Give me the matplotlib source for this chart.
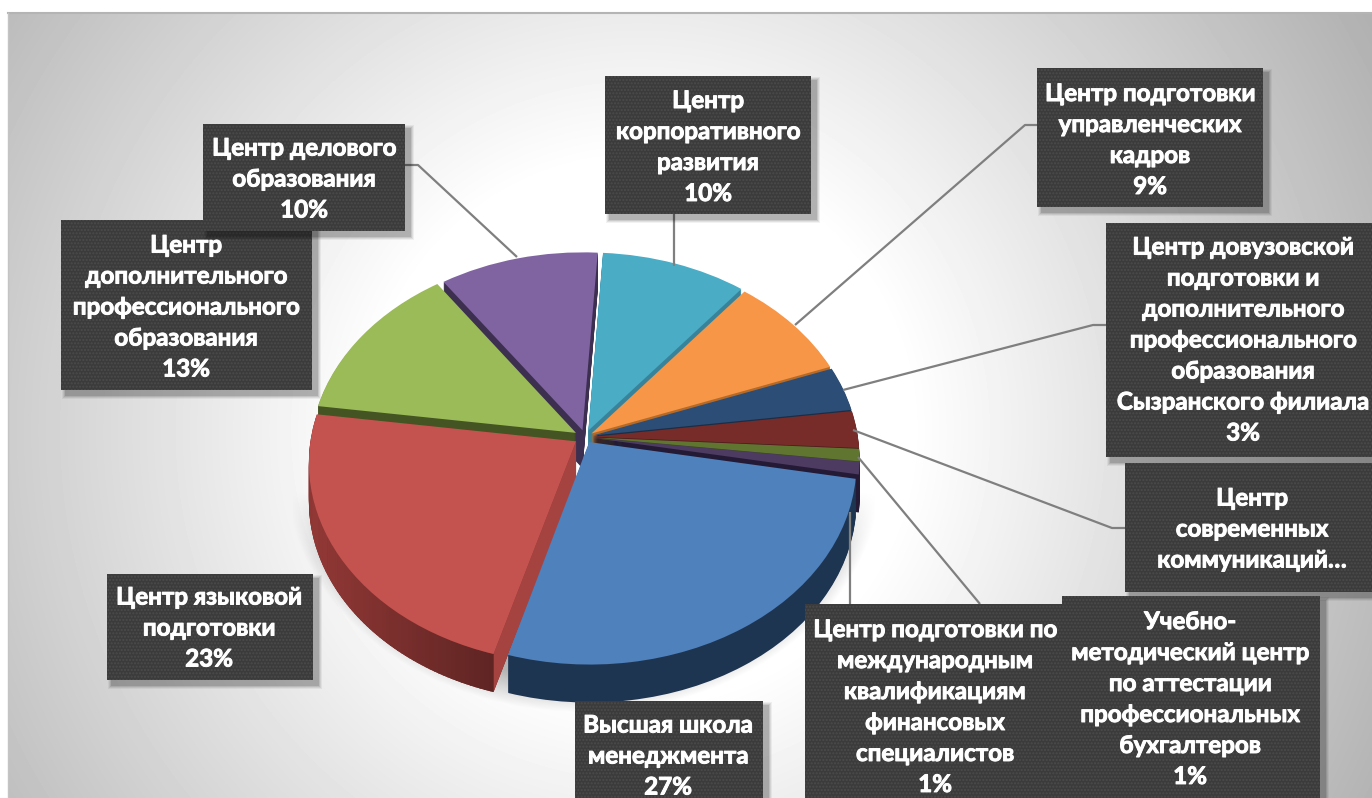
import numpy as np
import matplotlib
matplotlib.use("Agg")
import matplotlib.pyplot as plt
import matplotlib.patheffects as pe
from matplotlib.colors import to_rgb
from matplotlib.patches import Polygon, Rectangle
from matplotlib.transforms import Transform

plt.rcParams['font.family'] = ['Lato', 'Open Sans', 'DejaVu Sans']
plt.rcParams['hatch.linewidth'] = 1.0

names = [
    "Центр\nкорпоративного\nразвития",
    "Центр подготовки\nуправленческих\nкадров",
    "Центр довузовской\nподготовки и\nдополнительного\nпрофессионального\nобразования\nСызранского филиала",
    "Центр\nсовременных\nкоммуникаций…",
    "Центр подготовки по\nмеждународным\nквалификациям\nфинансовых\nспециалистов",
    "Учебно-\nметодический центр\nпо аттестации\nпрофессиональных\nбухгалтеров",
    "Высшая школа\nменеджмента",
    "Центр языковой\nподготовки",
    "Центр\nдополнительного\nпрофессионального\nобразования",
    "Центр делового\nобразования",
]
# percents as printed; values are the shares as drawn, read from the slice edges
percents = [10, 9, 3, 3, 1, 1, 27, 23, 13, 10]
values = [9.8, 8.5, 3.6, 3, 1, 1, 26.55, 22.75, 13.1, 10.7]
show_percent = [True, True, True, False, True, True, True, True, True, True]

top_colors = ['#4bacc6', '#f79646', '#2c4d75', '#772c2a', '#5f7530',
              '#4d3b62', '#4f81bd', '#c4524f', '#9bbb59', '#8064a2']
side_colors = ['#38839a', '#b56a28', '#1a2e46', '#4a1b1a', '#3a471d',
               '#241a35', '#1e3552', '#7a2f2d', '#445423', '#3c2f50']
explode = [0.035, 0.03, 0.03, 0.03, 0.03, 0.03, 0.03, 0.04, 0.04, 0.035]

# label boxes: x0, y0, x1, y1 in pixels, same order as names
boxes = [(605, 76, 811, 214), (1037, 68, 1263, 207), (1106, 223, 1372, 457),
         (1125, 463, 1372, 592), (805, 604, 1066, 800), (1062, 596, 1320, 800),
         (575, 701, 763, 800), (107, 574, 313, 680), (61, 220, 312, 390),
         (203, 124, 405, 231)]
text_xy = [(708, 147), (1150, 140), (1243, 340), (1252, 529), (935, 707),
           (1190, 699), (668, 756), (209, 628), (186, 307), (304, 179)]
leaders = [
    [(674, 214), (674, 266)],
    [(1037, 125), (1025, 125), (795, 325)],
    [(1106, 325), (1093, 325), (843, 390)],
    [(1125, 528), (1112, 528), (853, 430)],
    [(850, 604), (850, 512)],
    [(980, 604), (858, 457)],
    [(405, 165), (418, 165), (517, 257)],
]
# order in which the boxes are painted, later ones on top
box_order = [8, 9, 7, 6, 0, 1, 2, 3, 4, 5]

W, H = 1372, 798
CX, CY = 585, 437
RX, RY = 265, 198
TILT = 0.105
DEPTH = 38
START = 86.4
RED = 7


class Tilted(Transform):
    """unit pie -> pixels, with the front of the disc nearer the viewer"""
    input_dims = output_dims = 2

    def __init__(self, drop=0):
        super().__init__()
        self.drop = drop

    def transform_non_affine(self, xy):
        xy = np.asarray(xy)
        w = 1 + TILT * xy[:, 1]
        return np.column_stack((CX + RX * xy[:, 0] / w,
                                CY - RY * xy[:, 1] / w + self.drop))


def draw_pie(ax, colors, drop, z):
    wedges, _ = ax.pie(values, explode=explode, startangle=START, counterclock=False,
                       colors=colors, wedgeprops=dict(linewidth=0))
    for w in wedges:
        w.set_transform(Tilted(drop) + ax.transData)
        w.set_zorder(z)
        w.set_clip_on(False)
    return wedges


def shade_red_side(ax, wedge):
    # the big red slice shows a lit cut face and a rim that darkens to the right
    cx, cy = wedge.center
    top, bottom = Tilted(0), Tilted(DEPTH)
    a = np.radians(wedge.theta2)
    cut = np.array([[cx, cy], [cx + np.cos(a), cy + np.sin(a)]])
    pts = np.vstack((top.transform_non_affine(cut), bottom.transform_non_affine(cut[::-1])))
    ax.add_patch(Polygon(pts, fc='#a54341', ec='none', zorder=3.5))

    base = np.array(to_rgb('#7a2f2d'))
    thetas = np.arange(wedge.theta1, wedge.theta2 + 0.5, 1.0)
    for t0, t1 in zip(thetas[:-1], thetas[1:]):
        t1 = min(t1 + 0.3, wedge.theta2)
        arc = np.array([[cx + np.cos(np.radians(t)), cy + np.sin(np.radians(t))] for t in (t0, t1)])
        pts = np.vstack((top.transform_non_affine(arc), bottom.transform_non_affine(arc[::-1])))
        shade = np.interp(pts[:, 0].mean(), [310, 500], [1.2, 0.76])
        ax.add_patch(Polygon(pts, fc=np.clip(base * shade, 0, 1), ec='none', zorder=3.6))


def main():
    fig = plt.figure(figsize=(W / 100, H / 100), dpi=100, facecolor='white')
    ax = fig.add_axes([0, 0, 1, 1])

    # grey backdrop, white in the middle
    yy, xx = np.mgrid[13:H, 8:W]
    r = np.hypot(xx - 640, yy - 430)
    grey = np.clip(255 - 0.138 * (r - 270), 0, 255) / 255
    ax.imshow(grey, cmap='gray', vmin=0, vmax=1, extent=(8, W, H, 13),
              aspect='auto', zorder=0, interpolation='bilinear')
    ax.plot([8, W], [13, 13], color='#b4b4b4', lw=1.5, zorder=1)
    ax.plot([8, 8], [13, H], color='#c4c4c4', lw=1, zorder=1)

    # soft shadow under the pie
    d = np.hypot((xx - 583) / 290, (yy - 470) / 235)
    shade = np.clip((1.03 - d) / 0.14, 0, 1) * 0.30 * np.clip((yy - 490) / 70, 0, 1)
    shade[(xx < 293) | (xx > 874) | (yy > 717)] = 0
    rgba = np.zeros(shade.shape + (4,))
    rgba[..., 3] = shade
    ax.imshow(rgba, extent=(8, W, H, 13), aspect='auto', zorder=2)

    for drop in range(DEPTH, 0, -1):
        draw_pie(ax, side_colors, drop, 3 + (DEPTH - drop) * 0.001)
    wedges = draw_pie(ax, top_colors, 0, 4)
    shade_red_side(ax, wedges[RED])

    for pts in leaders:
        xs, ys = zip(*pts)
        ax.plot(xs, ys, color='#7f7f7f', lw=1.6, zorder=5, solid_capstyle='butt')

    for n, i in enumerate(box_order):
        x0, y0, x1, y1 = boxes[i]
        z = 6 + n
        for grow, alpha in zip((8, 6, 4, 2), (0.05, 0.07, 0.09, 0.12)):
            ax.add_patch(Rectangle((x0 + 5 - grow / 2, y0 + 5 - grow / 2),
                                   x1 - x0 + grow, y1 - y0 + grow,
                                   fc='black', ec='none', alpha=alpha, zorder=z))
        ax.add_patch(Rectangle((x0, y0), x1 - x0, y1 - y0, fc='#3b3b3b',
                               ec='#4b4b4b', lw=0, hatch='.....', zorder=z + 0.1))
        txt = names[i]
        if show_percent[i]:
            txt += f"\n{percents[i]}%"
        ax.text(text_xy[i][0], text_xy[i][1], txt, color='white', fontsize=17.4,
                fontweight='bold', ha='center', va='center', linespacing=1.42,
                zorder=z + 0.2,
                path_effects=[pe.withStroke(linewidth=0.7, foreground='white')])

    ax.set_aspect('auto')
    ax.set_xlim(0, W)
    ax.set_ylim(H, 0)
    ax.axis('off')
    fig.savefig("out.png", dpi=100, facecolor='white')


if __name__ == '__main__':
    main()
